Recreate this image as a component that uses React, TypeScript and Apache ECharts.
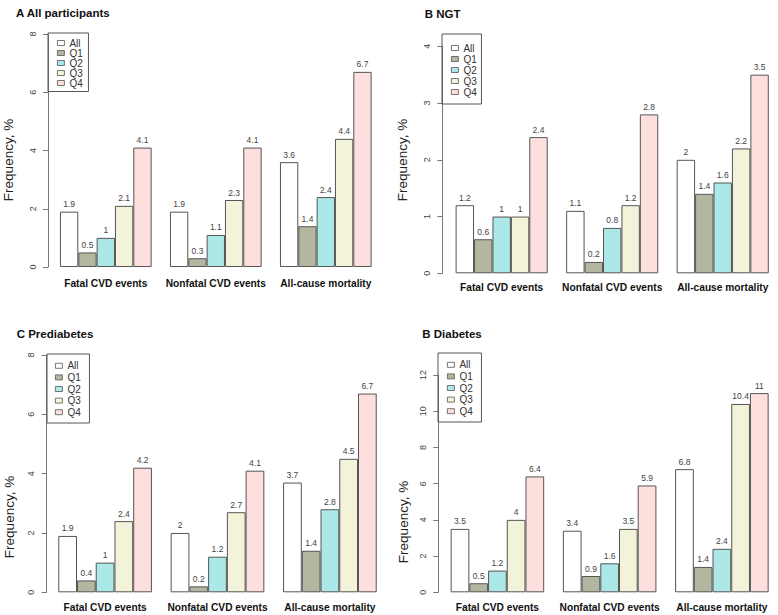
import React, { useEffect, useRef } from "react";
import * as echarts from "echarts";

// ---------- data ----------
const categories = ["Fatal CVD events", "Nonfatal CVD events", "All-cause mortality"];
const seriesNames = ["All", "Q1", "Q2", "Q3", "Q4"];

// A All participants
const aAll = [1.9, 1.9, 3.6];
const aQ1 = [0.5, 0.3, 1.4];
const aQ2 = [1, 1.1, 2.4];
const aQ3 = [2.1, 2.3, 4.4];
const aQ4 = [4.1, 4.1, 6.7];
// B NGT
const bAll = [1.2, 1.1, 2];
const bQ1 = [0.6, 0.2, 1.4];
const bQ2 = [1, 0.8, 1.6];
const bQ3 = [1, 1.2, 2.2];
const bQ4 = [2.4, 2.8, 3.5];
// C Prediabetes
const cAll = [1.9, 2, 3.7];
const cQ1 = [0.4, 0.2, 1.4];
const cQ2 = [1, 1.2, 2.8];
const cQ3 = [2.4, 2.7, 4.5];
const cQ4 = [4.2, 4.1, 6.7];
// B Diabetes
const dAll = [3.5, 3.4, 6.8];
const dQ1 = [0.5, 0.9, 1.4];
const dQ2 = [1.2, 1.6, 2.4];
const dQ3 = [4, 3.5, 10.4];
const dQ4 = [6.4, 5.9, 11];

const panelTitles = ["A All participants", "B NGT", "C Prediabetes", "B Diabetes"];
const yMax = [8, 4, 8, 12];
const yInterval = [2, 1, 2, 2];
const yLabel = "Frequency, %";

// ---------- styles / layout ----------
const FONT = "'Liberation Sans', Arial, Helvetica, sans-serif";
const colors = ["#ffffff", "#b3b79f", "#ace8e8", "#f3f3da", "#fde0de"];

const layouts = [
  {
    grid: { left: 50.8, top: 34, width: 330, height: 233 },
    axisOffset: 2.8,
    xMargin: 11,
    title: { x: 16, y: 13 },
    ylab: { x: 8, y: 160 },
    legend: { left: 48, top: 33, pad: [5, 5.7, 3.5, 9], gap: 8, row: 9.5 },
  },
  {
    grid: { left: 446.4, top: 46.3, width: 335, height: 227 },
    axisOffset: 4.1,
    xMargin: 9,
    title: { x: 424.7, y: 14 },
    ylab: { x: 402.5, y: 160 },
    legend: { left: 442, top: 34, pad: [8.5, 4.7, 6.5, 9], gap: 8, row: 11 },
  },
  {
    grid: { left: 48.9, top: 355, width: 337.2, height: 237.3 },
    axisOffset: 2.2,
    xMargin: 10,
    title: { x: 16.7, y: 334 },
    ylab: { x: 9, y: 517 },
    legend: { left: 47, top: 354, pad: [6, 8.7, 5, 8], gap: 4, row: 11.6 },
  },
  {
    grid: { left: 441.3, top: 375, width: 337, height: 217.3 },
    axisOffset: 3,
    xMargin: 10,
    title: { x: 422.3, y: 334 },
    ylab: { x: 403, y: 522 },
    legend: { left: 438, top: 353, pad: [6, 8.7, 5, 9], gap: 4, row: 11.6 },
  },
];

const panelValues = [
  [aAll, aQ1, aQ2, aQ3, aQ4],
  [bAll, bQ1, bQ2, bQ3, bQ4],
  [cAll, cQ1, cQ2, cQ3, cQ4],
  [dAll, dQ1, dQ2, dQ3, dQ4],
];

function buildOption() {
  const grid: any[] = [];
  const xAxis: any[] = [];
  const yAxis: any[] = [];
  const series: any[] = [];
  const legend: any[] = [];
  const graphic: any[] = [];

  layouts.forEach((L, p) => {
    grid.push({ ...L.grid, containLabel: false });
    xAxis.push({
      type: "category",
      gridIndex: p,
      data: categories,
      axisLine: { show: false },
      axisTick: { show: false },
      axisLabel: {
        interval: 0,
        margin: L.xMargin,
        fontFamily: FONT,
        fontWeight: "bold",
        fontSize: 10.2,
        color: "#111",
      },
    });
    yAxis.push({
      type: "value",
      gridIndex: p,
      min: 0,
      max: yMax[p],
      interval: yInterval[p],
      offset: L.axisOffset,
      splitLine: { show: false },
      axisLine: { show: true, lineStyle: { color: "#777", width: 1 } },
      axisTick: { show: true, length: 5, lineStyle: { color: "#777" } },
      axisLabel: {
        rotate: 90,
        margin: 11,
        fontFamily: FONT,
        fontSize: 9,
        color: "#444",
      },
    });
    panelValues[p].forEach((vals, s) => {
      series.push({
        type: "bar",
        name: seriesNames[s],
        xAxisIndex: p,
        yAxisIndex: p,
        data: vals,
        barGap: "0%",
        barCategoryGap: "16.667%",
        itemStyle: { color: colors[s], borderColor: "#555", borderWidth: 1 },
        label: {
          show: true,
          position: "top",
          distance: 3,
          fontFamily: FONT,
          fontSize: 8.5,
          color: "#444",
        },
      });
    });
    legend.push({
      data: seriesNames,
      orient: "vertical",
      left: L.legend.left,
      top: L.legend.top,
      padding: L.legend.pad,
      itemWidth: 7,
      itemHeight: 5,
      itemGap: 0,
      itemTextGap: L.legend.gap,
      icon: "rect",
      selectedMode: false,
      borderColor: "#555",
      borderWidth: 1,
      borderRadius: 0,
      itemStyle: { borderColor: "#555", borderWidth: 0.8 },
      textStyle: {
        fontFamily: FONT,
        fontSize: 10,
        color: "#333",
        lineHeight: L.legend.row,
      },
    });
    graphic.push({
      type: "text",
      x: L.title.x,
      y: L.title.y,
      style: {
        text: panelTitles[p],
        font: `bold 11.5px ${FONT}`,
        fill: "#111",
        textAlign: "left",
        textVerticalAlign: "middle",
      },
    });
    graphic.push({
      type: "text",
      x: L.ylab.x,
      y: L.ylab.y,
      rotation: Math.PI / 2,
      style: {
        text: yLabel,
        font: `13.5px ${FONT}`,
        fill: "#222",
        textAlign: "center",
        textVerticalAlign: "middle",
      },
    });
  });

  return {
    animation: false,
    backgroundColor: "#ffffff",
    grid,
    xAxis,
    yAxis,
    series,
    legend,
    graphic,
  };
}

export default function App() {
  const ref = useRef<HTMLDivElement>(null);
  useEffect(() => {
    if (!ref.current) return;
    const chart = echarts.init(ref.current, undefined, { renderer: "svg" });
    chart.setOption(buildOption() as any);
    return () => chart.dispose();
  }, []);
  return (
    <div
      ref={ref}
      style={{ position: "fixed", left: 0, top: 0, width: 778, height: 615, background: "#fff" }}
    />
  );
}
